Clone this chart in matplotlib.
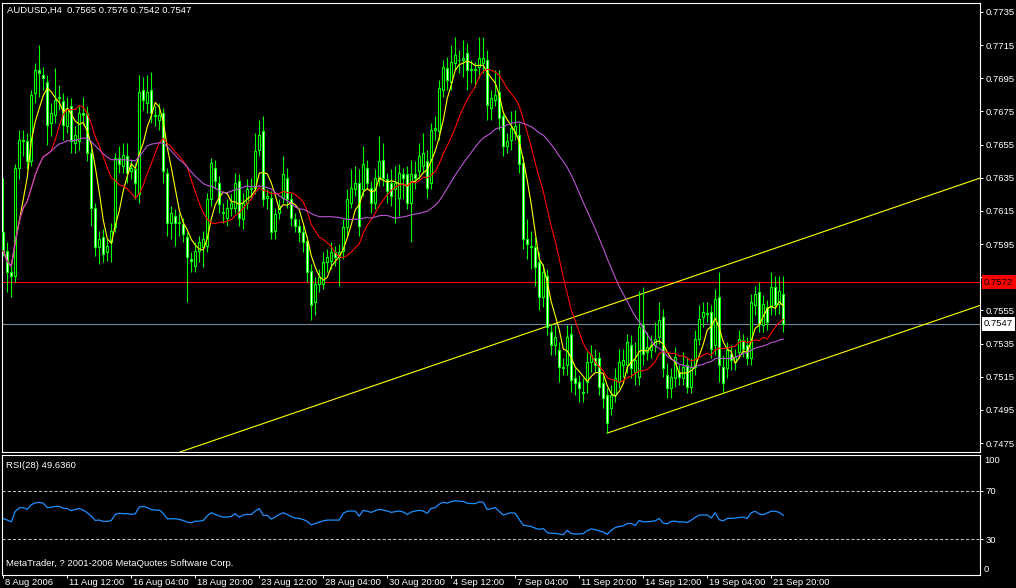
import numpy as np
import pandas as pd
import matplotlib
matplotlib.use("Agg")
import matplotlib.pyplot as plt
import matplotlib.transforms as mtransforms

W, H = 1016, 588
BG = "black"
FG = "white"
CANDLE = "#00ff00"
FONT = "Liberation Sans"
FS = 6.8

SYMBOL_TITLE = "AUDUSD,H4  0.7565 0.7576 0.7542 0.7547"
RSI_TITLE = "RSI(28) 49.6360"
COPYRIGHT = "MetaTrader, ? 2001-2006 MetaQuotes Software Corp."

# H4 bars, prices in pips (0.7602 -> 7602)
OPEN = [
    7602, 7591, 7578, 7576, 7641, 7658, 7657, 7645, 7686, 7700,
    7697, 7693, 7668, 7673, 7683, 7681, 7666, 7678, 7656, 7657,
    7674, 7674, 7650, 7617, 7593, 7599, 7590, 7596, 7605, 7647,
    7642, 7648, 7639, 7640, 7625, 7688, 7680, 7688, 7673, 7670,
    7674, 7638, 7608, 7612, 7608, 7607, 7599, 7586, 7582, 7591,
    7593, 7594, 7622, 7641, 7632, 7614, 7611, 7617, 7617, 7633,
    7610, 7620, 7628, 7629, 7652, 7663, 7623, 7623, 7603, 7614,
    7623, 7635, 7622, 7610, 7606, 7602, 7597, 7579, 7560, 7571,
    7571, 7584, 7585, 7590, 7587, 7591, 7605, 7620, 7628, 7632,
    7628, 7641, 7629, 7620, 7634, 7646, 7634, 7632, 7628, 7623,
    7637, 7637, 7620, 7637, 7639, 7642, 7645, 7632, 7664, 7663,
    7688, 7701, 7693, 7704, 7706, 7706, 7710, 7700, 7700, 7702,
    7704, 7706, 7677, 7682, 7687, 7672, 7654, 7658, 7662, 7661,
    7644, 7598, 7594, 7593, 7584, 7563, 7576, 7542, 7534, 7531,
    7521, 7522, 7541, 7514, 7512, 7506, 7512, 7524, 7526, 7526,
    7511, 7504, 7496, 7504, 7512, 7522, 7522, 7534, 7518, 7515,
    7546, 7530, 7531, 7534, 7539, 7551, 7516, 7508, 7514, 7518,
    7514, 7522, 7509, 7521, 7538, 7551, 7553, 7554, 7534, 7563,
    7521, 7520, 7529, 7524, 7530, 7537, 7534, 7526, 7558, 7566,
    7546, 7557, 7557, 7569, 7559, 7565,
]
HIGH = [
    7635, 7596, 7584, 7643, 7664, 7664, 7662, 7688, 7704, 7715,
    7702, 7697, 7680, 7701, 7691, 7686, 7684, 7683, 7666, 7678,
    7684, 7678, 7653, 7620, 7603, 7604, 7598, 7608, 7650, 7654,
    7656, 7656, 7646, 7644, 7697, 7696, 7697, 7699, 7678, 7680,
    7677, 7641, 7618, 7616, 7614, 7611, 7602, 7590, 7596, 7600,
    7603, 7626, 7647, 7646, 7636, 7620, 7622, 7625, 7638, 7637,
    7626, 7634, 7635, 7662, 7670, 7672, 7628, 7627, 7617, 7622,
    7648, 7641, 7626, 7614, 7610, 7606, 7600, 7583, 7575, 7580,
    7590, 7592, 7596, 7594, 7595, 7610, 7628, 7640, 7642, 7640,
    7654, 7646, 7633, 7640, 7660, 7656, 7638, 7640, 7642, 7643,
    7641, 7642, 7646, 7645, 7656, 7662, 7652, 7668, 7672, 7694,
    7706, 7708, 7715, 7720, 7712, 7718, 7716, 7706, 7705, 7720,
    7720, 7712, 7688, 7700, 7700, 7675, 7662, 7675, 7676, 7668,
    7648, 7610, 7603, 7599, 7590, 7583, 7580, 7547, 7546, 7536,
    7526, 7546, 7546, 7520, 7516, 7514, 7530, 7534, 7532, 7530,
    7516, 7508, 7510, 7520, 7532, 7532, 7541, 7540, 7536, 7567,
    7569, 7542, 7540, 7548, 7560, 7556, 7523, 7520, 7533, 7522,
    7530, 7527, 7526, 7543, 7558, 7560, 7560, 7558, 7568, 7578,
    7528, 7536, 7534, 7532, 7543, 7541, 7539, 7565, 7570, 7572,
    7564, 7561, 7578, 7576, 7576, 7576,
]
LOW = [
    7588, 7566, 7563, 7572, 7634, 7648, 7640, 7642, 7680, 7684,
    7688, 7655, 7660, 7668, 7676, 7658, 7662, 7650, 7650, 7652,
    7667, 7645, 7606, 7588, 7583, 7584, 7585, 7584, 7602, 7638,
    7638, 7632, 7634, 7622, 7620, 7676, 7674, 7668, 7666, 7664,
    7632, 7600, 7598, 7594, 7600, 7596, 7560, 7578, 7578, 7584,
    7581, 7590, 7618, 7628, 7614, 7608, 7606, 7612, 7614, 7606,
    7604, 7616, 7622, 7625, 7648, 7618, 7616, 7598, 7598, 7610,
    7620, 7617, 7606, 7602, 7596, 7590, 7572, 7549, 7552, 7566,
    7568, 7578, 7580, 7582, 7570, 7586, 7600, 7617, 7624, 7600,
    7624, 7628, 7614, 7616, 7630, 7630, 7620, 7618, 7608, 7612,
    7622, 7616, 7596, 7628, 7634, 7638, 7623, 7628, 7658, 7658,
    7684, 7688, 7688, 7700, 7698, 7696, 7688, 7692, 7690, 7695,
    7698, 7670, 7670, 7678, 7664, 7648, 7650, 7652, 7658, 7638,
    7592, 7586, 7580, 7570, 7555, 7557, 7540, 7528, 7528, 7512,
    7516, 7516, 7506, 7504, 7500, 7500, 7505, 7518, 7518, 7504,
    7496, 7481, 7492, 7500, 7508, 7515, 7517, 7514, 7510, 7510,
    7522, 7525, 7526, 7530, 7535, 7515, 7502, 7502, 7509, 7510,
    7510, 7505, 7505, 7516, 7534, 7545, 7548, 7526, 7528, 7512,
    7505, 7514, 7519, 7519, 7526, 7527, 7522, 7522, 7552, 7542,
    7542, 7543, 7552, 7552, 7553, 7542,
]
CLOSE = [
    7591, 7578, 7576, 7641, 7658, 7657, 7645, 7685, 7700, 7698,
    7695, 7667, 7674, 7682, 7684, 7667, 7677, 7657, 7661, 7674,
    7673, 7650, 7617, 7593, 7598, 7589, 7594, 7603, 7647, 7643,
    7649, 7638, 7641, 7632, 7687, 7682, 7687, 7674, 7672, 7673,
    7639, 7608, 7614, 7608, 7608, 7601, 7587, 7585, 7591, 7596,
    7598, 7622, 7644, 7633, 7619, 7614, 7617, 7620, 7632, 7611,
    7620, 7628, 7629, 7651, 7661, 7622, 7624, 7602, 7613, 7618,
    7637, 7622, 7611, 7606, 7602, 7596, 7578, 7558, 7571, 7575,
    7584, 7587, 7590, 7587, 7590, 7605, 7622, 7629, 7632, 7606,
    7643, 7632, 7620, 7635, 7645, 7635, 7627, 7624, 7632, 7638,
    7635, 7620, 7637, 7635, 7648, 7650, 7629, 7664, 7665, 7689,
    7702, 7694, 7705, 7709, 7706, 7707, 7700, 7700, 7700, 7707,
    7707, 7679, 7683, 7685, 7671, 7654, 7657, 7665, 7666, 7643,
    7598, 7595, 7593, 7581, 7563, 7578, 7545, 7534, 7539, 7521,
    7520, 7539, 7513, 7511, 7508, 7505, 7524, 7528, 7522, 7509,
    7502, 7487, 7504, 7514, 7524, 7525, 7536, 7520, 7525, 7545,
    7529, 7533, 7534, 7538, 7549, 7520, 7508, 7515, 7527, 7515,
    7521, 7509, 7521, 7538, 7550, 7554, 7553, 7532, 7562, 7522,
    7511, 7531, 7525, 7527, 7538, 7532, 7526, 7560, 7565, 7547,
    7559, 7548, 7569, 7558, 7567, 7547,
]
RSI28 = [
    47.0, 45.7, 44.3, 53.0, 55.8, 56.0, 54.6, 58.5, 60.0, 60.3,
    59.7, 56.0, 56.3, 57.0, 57.0, 55.5, 55.2, 53.5, 54.6, 55.2,
    54.0, 51.8, 49.0, 45.4, 45.7, 44.6, 44.6, 45.4, 50.4, 51.3,
    51.0, 51.0, 50.4, 51.0, 56.6, 57.0, 56.0, 54.4, 54.0, 54.0,
    51.3, 46.8, 46.8, 46.8, 46.2, 45.4, 44.0, 43.4, 44.8, 44.8,
    45.4, 49.3, 51.8, 50.4, 49.0, 48.2, 48.2, 48.8, 51.0, 48.2,
    49.9, 50.4, 50.4, 53.2, 55.2, 49.6, 49.6, 46.5, 48.2, 50.4,
    51.8, 50.4, 48.5, 47.4, 47.0, 46.2, 44.6, 41.8, 42.9, 44.0,
    45.1, 45.7, 45.7, 45.7, 45.7, 51.3, 53.0, 53.2, 53.2, 49.0,
    53.8, 53.0, 52.1, 53.5, 54.6, 54.0, 53.2, 52.1, 52.7, 53.2,
    52.4, 50.4, 52.4, 53.2, 53.8, 53.2, 51.3, 55.5, 56.0, 58.9,
    60.5, 59.7, 61.1, 61.7, 61.4, 61.1, 59.7, 59.4, 59.4, 60.8,
    60.5, 54.4, 55.2, 56.0, 53.0, 49.9, 51.0, 51.8, 51.3, 46.2,
    41.5, 40.9, 40.4, 39.0, 38.1, 38.7, 35.3, 34.8, 34.8, 34.2,
    33.6, 37.3, 34.5, 34.2, 34.2, 34.5, 37.0, 38.4, 37.8, 36.7,
    35.9, 33.9, 37.3, 39.5, 40.4, 40.9, 42.9, 42.9, 41.2, 45.4,
    44.3, 44.3, 44.6, 45.1, 47.1, 43.2, 42.6, 44.6, 44.8, 44.0,
    44.3, 43.7, 45.7, 47.9, 49.9, 49.9, 49.9, 47.4, 51.8, 46.0,
    45.1, 47.1, 47.1, 47.4, 47.9, 48.2, 47.1, 51.8, 53.0, 50.7,
    50.2, 51.6, 53.0, 53.0, 52.1, 49.6,
]

DATE_LABELS = [
    "8 Aug 2006", "11 Aug 12:00", "16 Aug 04:00", "18 Aug 20:00",
    "23 Aug 12:00", "28 Aug 04:00", "30 Aug 20:00", "4 Sep 12:00",
    "7 Sep 04:00", "11 Sep 20:00", "14 Sep 12:00", "19 Sep 04:00",
    "21 Sep 20:00",
]
BARS_PER_LABEL = 16

MA_PERIODS = [(5, "#ffff00"), (13, "#ff0000"), (34, "#ba55d3")]

# channel lines: (bar, price) anchor pairs
TREND_LINES = [
    [(44.2, 0.74696), (244.2, 0.76348)],
    [(151.0, 0.74810), (244.2, 0.75580)],
]
ALERT_LEVEL = 0.7572
BID_LEVEL = 0.7547


def fig_box(x0, y0, x1, y1):
    # pixel rectangle (top-left origin) -> figure fraction
    return [x0 / W, 1 - y1 / H, (x1 - x0) / W, (y1 - y0) / H]


def style_axes(ax):
    ax.set_facecolor(BG)
    for s in ax.spines.values():
        s.set_color(FG)
        s.set_linewidth(0.8)
    ax.tick_params(colors=FG, labelcolor=FG, labelsize=FS, direction="out",
                   length=2.5, width=0.7, pad=1.5)


def main():
    plt.rcParams["font.family"] = [FONT, "DejaVu Sans"]
    o = np.array(OPEN) / 1e4
    h = np.array(HIGH) / 1e4
    l = np.array(LOW) / 1e4
    c = np.array(CLOSE) / 1e4
    x = np.arange(len(c))

    fig = plt.figure(figsize=(W / 100, H / 100), dpi=100, facecolor=BG)

    # price panel
    ax = fig.add_axes(fig_box(2.3, 2.5, 980, 452))
    ax.set_xlim(-0.25, 244.2)
    ax.set_ylim(0.74696, 0.77407)

    ax.axhline(ALERT_LEVEL, color="#ff0000", lw=0.8, zorder=1)
    ax.axhline(BID_LEVEL, color="#778899", lw=0.8, zorder=1)
    for (x0, y0), (x1, y1) in TREND_LINES:
        ax.plot([x0, x1], [y0, y1], color="#ffff00", lw=0.8, zorder=1)

    ax.vlines(x, l, h, color=CANDLE, lw=0.8, zorder=2)
    up = c >= o
    body = np.maximum(np.abs(c - o), 0.00003)
    ax.bar(x, body, bottom=np.minimum(o, c), width=0.5,
           color=np.where(up, BG, FG), edgecolor=CANDLE, lw=0.8, zorder=3)

    closes = pd.Series(c)
    for period, color in MA_PERIODS:
        ma = closes.rolling(period, min_periods=1).mean()
        ax.plot(x, ma, color=color, lw=0.8, zorder=4)

    ax.yaxis.tick_right()
    ax.set_yticks(np.arange(7475, 7736, 20) / 1e4)
    ax.yaxis.set_major_formatter(plt.FormatStrFormatter("%.4f"))
    ax.set_xticks([])
    style_axes(ax)

    for level, fc, tc in [(ALERT_LEVEL, "#ff0000", "black"), (BID_LEVEL, "white", "black")]:
        ax.annotate(f"{level:.4f}", xy=(1, level), xycoords=("axes fraction", "data"),
                    xytext=(4, 0), textcoords="offset pixels", ha="left", va="center",
                    fontsize=FS, color=tc, zorder=10, annotation_clip=False,
                    bbox=dict(boxstyle="square,pad=0.25", fc=fc, ec="none"))

    # RSI panel
    rsi = fig.add_axes(fig_box(2.3, 454.5, 980, 575.3))
    rsi.set_xlim(-0.25, 244.2)
    rsi.set_ylim(0, 100)
    for lvl in (30, 70):
        rsi.axhline(lvl, color="#c0c0c0", lw=0.75, dashes=(3, 2))
    rsi.plot(x, RSI28, color="#1e90ff", lw=0.9)
    rsi.yaxis.tick_right()
    rsi.set_yticks([30, 70])
    rsi.set_yticklabels(["30", "70"])
    tick_bars = np.arange(len(DATE_LABELS)) * BARS_PER_LABEL
    rsi.set_xticks(tick_bars)
    rsi.set_xticklabels([])
    style_axes(rsi)
    trans = rsi.transAxes
    rsi.text(1.004, 0.985, "100", transform=trans, ha="left", va="top",
             fontsize=FS, color=FG, clip_on=False)
    rsi.text(1.004, 0.01, "0", transform=trans, ha="left", va="bottom",
             fontsize=FS, color=FG, clip_on=False)
    dtrans = mtransforms.blended_transform_factory(rsi.transData, rsi.transAxes)
    for b, lab in zip(tick_bars, DATE_LABELS):
        rsi.text(b + 0.5, -0.025, lab, transform=dtrans, ha="left", va="top",
                 fontsize=FS, color=FG, clip_on=False)

    fig.text(7 / W, 1 - 10.7 / H, SYMBOL_TITLE, color=FG, fontsize=FS, va="center")
    fig.text(6 / W, 1 - 465 / H, RSI_TITLE, color=FG, fontsize=FS, va="center")
    fig.text(6 / W, 1 - 563 / H, COPYRIGHT, color=FG, fontsize=FS, va="center")

    fig.savefig("out.png", dpi=100, facecolor=BG)
    plt.close(fig)


if __name__ == "__main__":
    main()
